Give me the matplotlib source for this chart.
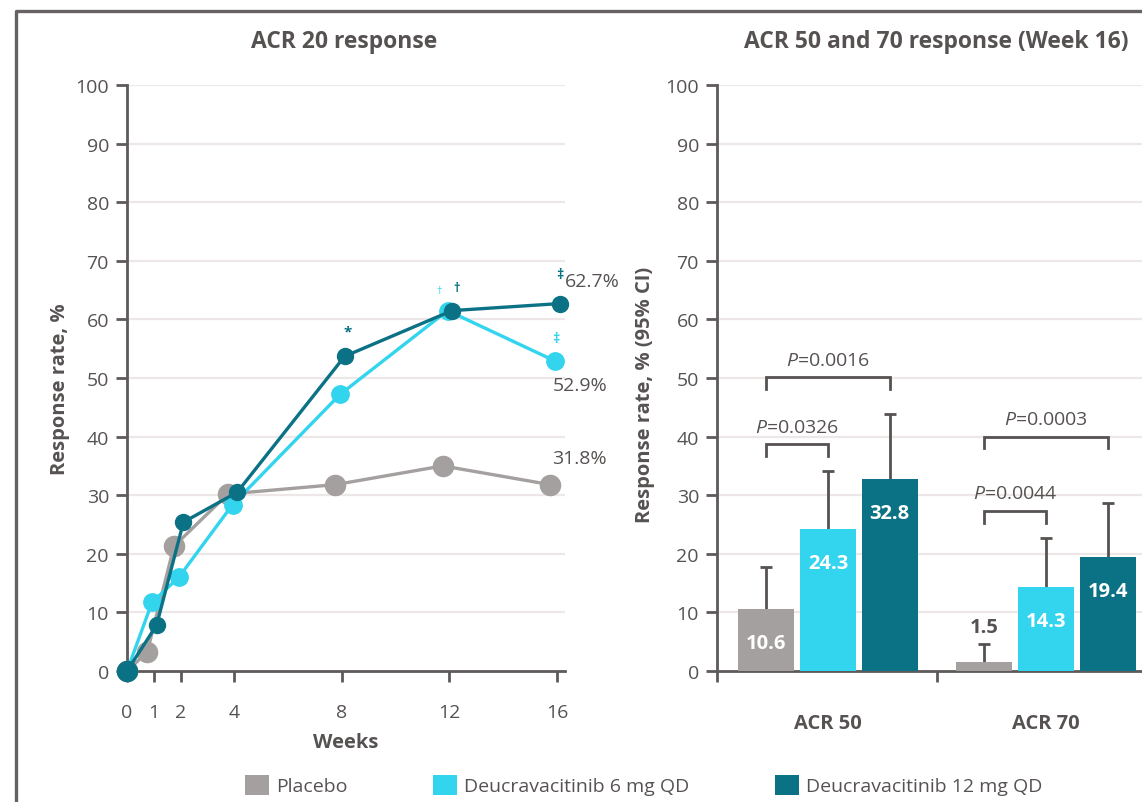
import numpy as np
import matplotlib.pyplot as plt
from matplotlib.lines import Line2D
from matplotlib.patches import Patch

plt.rcParams['font.family'] = ['Open Sans', 'DejaVu Sans']
plt.rcParams['mathtext.fontset'] = 'custom'
plt.rcParams['mathtext.it'] = 'Open Sans:italic'
plt.rcParams['mathtext.rm'] = 'Open Sans'

# ACR 20 response over time (%)
weeks = [0, 1, 2, 4, 8, 12, 16]
placebo_acr20 = [0, 3.2, 21.3, 30.2, 31.8, 35.0, 31.8]
deuc6_acr20 = [0, 11.7, 16.0, 28.4, 47.2, 61.5, 52.9]
deuc12_acr20 = [0, 7.8, 25.4, 30.5, 53.7, 61.5, 62.7]

# ACR 50 / 70 at week 16 (%), with upper 95% CI
categories = ['ACR 50', 'ACR 70']
placebo_wk16 = [10.6, 1.5]
deuc6_wk16 = [24.3, 14.3]
deuc12_wk16 = [32.8, 19.4]
placebo_ci_hi = [17.7, 4.6]
deuc6_ci_hi = [34.1, 22.7]
deuc12_ci_hi = [43.9, 28.6]

# p-value brackets: (category index, from group, to group, level, text)
p_brackets = [
    (0, 0, 2, 50.1, '0.0016'),
    (0, 0, 1, 38.7, '0.0326'),
    (1, 0, 2, 40.0, '0.0003'),
    (1, 0, 1, 27.3, '0.0044'),
]

labels = ['Placebo', 'Deucravacitinib 6 mg QD', 'Deucravacitinib 12 mg QD']
colors = ['#a5a0a0', '#33d4ee', '#0b7285']
text_gray = '#575252'
axis_gray = '#5f5a5a'
grid_gray = '#ede7e7'

fig = plt.figure(figsize=(11.42, 8.03), dpi=100)

# outer frame (top and left edges)
fig.add_artist(Line2D([16 / 1142, 16 / 1142, 1.0], [0.0, 1 - 12 / 803, 1 - 12 / 803],
                      transform=fig.transFigure, color='#676262', lw=2.4))

bottom = 1 - 672 / 803
height = (672 - 86) / 803

# ---- left panel: ACR 20 line chart ----
ax1 = fig.add_axes([127 / 1142, bottom, 438 / 1142, height])
ax1.set_xlim(0, 16.3)
ax1.set_ylim(0, 100)

dodge = [-0.25, -0.07, 0.1]
msizes = [14.5, 12.5, 11.5]
series = [placebo_acr20, deuc6_acr20, deuc12_acr20]
w = np.array(weeks, dtype=float)
for i, (vals, c) in enumerate(zip(series, colors)):
    x = np.where(w > 0, w + dodge[i], w)
    ax1.plot(x, vals, color=c, lw=2.4, marker='o', ms=msizes[i],
             zorder=3 + i, clip_on=False)
# baseline point drawn larger on top
ax1.plot([weeks[0]], [deuc12_acr20[0]], 'o', color=colors[2], ms=14.5, zorder=7, clip_on=False)

ax1.set_yticks(range(0, 101, 10))
ax1.set_xticks(weeks)
for y in range(10, 101, 10):
    ax1.axhline(y, color=grid_gray, lw=1.6, zorder=0)

# end-of-line values and significance markers
ax1.text(16.3, 66.6, '62.7%', ha='left', va='center', fontsize=14, color=text_gray)
ax1.text(16.85, 48.8, '52.9%', ha='center', va='center', fontsize=14, color=text_gray)
ax1.text(16.85, 36.3, '31.8%', ha='center', va='center', fontsize=14, color=text_gray)
ax1.text(16.1, 67.8, '\u2021', ha='center', va='center', fontsize=10, color=colors[2], fontweight='bold')
ax1.text(15.96, 56.8, '\u2021', ha='center', va='center', fontsize=10, color=colors[1], fontweight='bold')
ax1.text(8.22, 58.0, '*', ha='center', va='center', fontsize=11, color=colors[2], fontweight='bold')
ax1.text(11.6, 64.9, '\u2020', ha='center', va='center', fontsize=8, color=colors[1])
ax1.text(12.28, 65.4, '\u2020', ha='center', va='center', fontsize=9, color=colors[2], fontweight='bold')

ax1.set_xlabel('Weeks', fontsize=14.5, fontweight='bold', color=text_gray, labelpad=8)

# ---- right panel: week 16 bars ----
ax2 = fig.add_axes([717 / 1142, bottom, 425 / 1142, height])
ax2.set_xlim(-0.509, 1.44)
ax2.set_ylim(0, 100)
ax2.set_yticks(range(0, 101, 10))
for y in range(10, 101, 10):
    ax2.axhline(y, color=grid_gray, lw=1.6, zorder=0)

cx = np.arange(len(categories))
offsets = [-0.283, 0.0, 0.283]
bar_w = 0.257
bar_vals = [placebo_wk16, deuc6_wk16, deuc12_wk16]
ci_hi = [placebo_ci_hi, deuc6_ci_hi, deuc12_ci_hi]
for i in range(3):
    xs = cx + offsets[i]
    vals = np.array(bar_vals[i])
    ax2.bar(xs, vals, width=bar_w, color=colors[i], zorder=3)
    eb = ax2.errorbar(xs, vals, yerr=[np.zeros_like(vals), np.array(ci_hi[i]) - vals],
                      fmt='none', ecolor=text_gray, elinewidth=2, capsize=4,
                      capthick=2, zorder=2)
    eb[1][0].set_visible(False)  # hide lower caps
    for x, v in zip(xs, vals):
        if v < 5:
            ax2.text(x, v + 6, f'{v:.1f}', ha='center', va='center', fontsize=14.5,
                     fontweight='bold', color=text_gray, zorder=5)
        else:
            ax2.text(x, v - 5.8, f'{v:.1f}', ha='center', va='center', fontsize=14.5,
                     fontweight='bold', color='white', zorder=5)

for cat, g0, g1, lvl, p in p_brackets:
    x0, x1 = cat + offsets[g0], cat + offsets[g1]
    ax2.plot([x0, x0, x1, x1], [lvl - 2, lvl, lvl, lvl - 2], color=text_gray,
             lw=2, zorder=4, solid_joinstyle='miter')
    ax2.text((x0 + x1) / 2, lvl + 3, '$P$=' + p,
             ha='center', va='center', fontsize=14, color=text_gray)

ax2.set_xticks(cx)
ax2.set_xticklabels(categories, fontsize=14.5, fontweight='bold', color=text_gray)
ax2.tick_params(axis='x', which='major', length=0, pad=30)
ax2.set_xticks([ax2.get_xlim()[0], 0.5], minor=True)
ax2.tick_params(axis='x', which='minor', length=8, width=2, color=axis_gray, direction='out')

# shared axis styling
for ax in (ax1, ax2):
    for s in ('top', 'right'):
        ax.spines[s].set_visible(False)
    for s in ('left', 'bottom'):
        ax.spines[s].set_color(axis_gray)
        ax.spines[s].set_linewidth(2)
    ax.tick_params(axis='y', length=8, width=2, color=axis_gray, labelsize=14,
                   labelcolor=text_gray, pad=5)
ax1.tick_params(axis='x', length=8, width=2, color=axis_gray, labelsize=14,
                labelcolor=text_gray, pad=15)

# titles and y labels
fig.text(344 / 1142, 1 - 42 / 803, 'ACR 20 response', ha='center', va='center',
         fontsize=16.5, fontweight='bold', color=text_gray)
fig.text(936 / 1142, 1 - 42 / 803, 'ACR 50 and 70 response (Week 16)', ha='center',
         va='center', fontsize=16.5, fontweight='bold', color=text_gray)
fig.text(60 / 1142, 1 - 389 / 803, 'Response rate, %', rotation=90, ha='center',
         va='center', fontsize=14.5, fontweight='bold', color=text_gray)
fig.text(645 / 1142, 1 - 395 / 803, 'Response rate, % (95% CI)', rotation=90,
         ha='center', va='center', fontsize=14.5, fontweight='bold', color=text_gray)

# legend
handles = [Patch(facecolor=c, edgecolor='none') for c in colors]
fig.legend(handles, labels, loc='center', bbox_to_anchor=(644 / 1142, 1 - 786 / 803),
           ncol=3, frameon=False, fontsize=14, handlelength=1.2, handleheight=1.2,
           handletextpad=0.4, columnspacing=4.4, labelcolor=text_gray)

fig.savefig('out.png', dpi=100)
